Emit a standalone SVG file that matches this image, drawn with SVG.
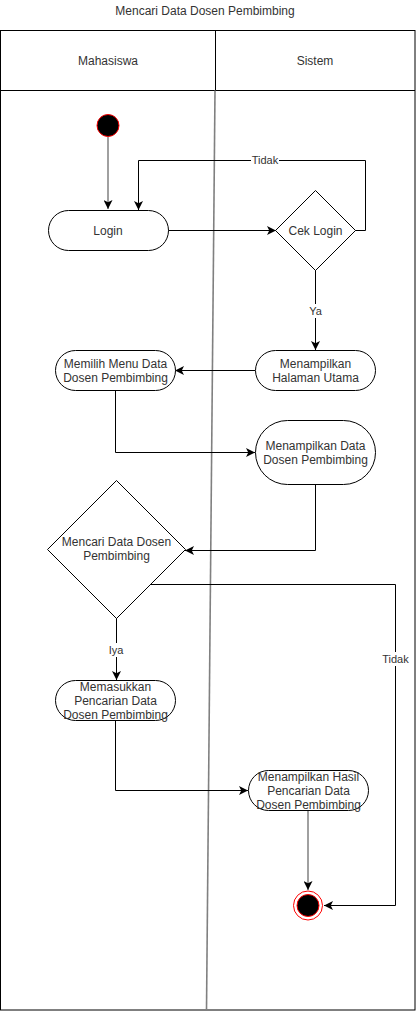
<svg xmlns="http://www.w3.org/2000/svg" width="416" height="1012" viewBox="0 0 416 1012">
<style>
text{font-family:"Liberation Sans",Arial,sans-serif;font-size:12px;fill:#333;text-anchor:middle}
.lbl{font-size:11px}
.node{fill:#fff;stroke:#000;stroke-width:1}
.edge{fill:none;stroke:#000;stroke-width:1}
.gray{fill:none;stroke:#808080;stroke-width:1.5}
.frame{fill:#fff;stroke:#000;stroke-width:1}
</style>
<defs>
<marker id="arr" viewBox="0 0 10 10" refX="10" refY="5" markerWidth="9" markerHeight="9" markerUnits="userSpaceOnUse" orient="auto">
<path d="M0,0 L10,5 L0,10 L2.5,5 Z" fill="#000"/>
</marker>
</defs>
<rect width="416" height="1012" fill="#fff"/>
<text x="205" y="15">Mencari Data Dosen Pembimbing</text>
<g id="pool">
<rect class="frame" x="0.5" y="30.5" width="414.5" height="979.5"/>
<line class="edge" x1="0.5" y1="90.5" x2="415" y2="90.5"/>
<line class="edge" x1="215.5" y1="30.5" x2="215.5" y2="90.5"/>
<line x1="215" y1="90.5" x2="206.5" y2="1010" stroke="#808080" stroke-width="1.6"/>
<text x="108" y="65">Mahasiswa</text>
<text x="315" y="65">Sistem</text>
</g>
<g id="connectors">
<line class="gray" x1="108" y1="137" x2="108" y2="209" marker-end="url(#arr)"/>
<line class="edge" x1="168" y1="230.5" x2="276" y2="230.5" marker-end="url(#arr)"/>
<polyline class="edge" points="355,230.5 365.5,230.5 365.5,160.5 138.5,160.5 138.5,210" marker-end="url(#arr)"/>
<rect x="251" y="153" width="28" height="14" fill="#fff"/>
<text class="lbl" x="265" y="164">Tidak</text>
<line class="edge" x1="315.5" y1="270" x2="315.5" y2="350" marker-end="url(#arr)"/>
<rect x="307" y="304" width="17" height="14" fill="#fff"/>
<text class="lbl" x="315.5" y="315">Ya</text>
<line class="edge" x1="255" y1="370.5" x2="175" y2="370.5" marker-end="url(#arr)"/>
<polyline class="edge" points="115.5,390 115.5,452.5 255,452.5" marker-end="url(#arr)"/>
<polyline class="edge" points="315.5,485 315.5,550.5 185,550.5" marker-end="url(#arr)"/>
<line class="edge" x1="116.5" y1="618" x2="116.5" y2="680" marker-end="url(#arr)"/>
<rect x="107" y="643" width="18" height="14" fill="#fff"/>
<text class="lbl" x="116" y="654">Iya</text>
<polyline class="edge" points="150,584.5 395.5,584.5 395.5,905.5 324,905.5" marker-end="url(#arr)"/>
<rect x="381" y="652" width="29" height="14" fill="#fff"/>
<text class="lbl" x="395.5" y="663">Tidak</text>
<polyline class="edge" points="115.5,720 115.5,790.5 248,790.5" marker-end="url(#arr)"/>
<line class="gray" x1="308" y1="810" x2="308" y2="890" marker-end="url(#arr)"/>
</g>
<g id="start">
<circle cx="108" cy="125.5" r="11" fill="#000" stroke="#ff0000" stroke-width="1"/>
</g>
<g id="login">
<rect class="node" x="48.5" y="210.5" width="120" height="40" rx="20"/>
<text x="108" y="234.5">Login</text>
</g>
<g id="cek-login">
<polygon class="node" points="315.5,190.5 355.5,230.5 315.5,270.5 275.5,230.5"/>
<text x="315.5" y="234.5">Cek Login</text>
</g>
<g id="halaman-utama">
<rect class="node" x="255.5" y="350.5" width="120" height="40" rx="20"/>
<text x="315.5" y="368">Menampilkan</text>
<text x="315.5" y="382">Halaman Utama</text>
</g>
<g id="memilih-menu">
<rect class="node" x="55.5" y="350.5" width="120" height="40" rx="20"/>
<text x="115.5" y="368">Memilih Menu Data</text>
<text x="115.5" y="382">Dosen Pembimbing</text>
</g>
<g id="tampil-data">
<rect class="node" x="255.5" y="420.5" width="120" height="64" rx="32"/>
<text x="315.5" y="450">Menampilkan Data</text>
<text x="315.5" y="464">Dosen Pembimbing</text>
</g>
<g id="cari-data">
<polygon class="node" points="116.5,480.5 185.5,549.5 116.5,618.5 47.5,549.5"/>
<text x="116.5" y="546">Mencari Data Dosen</text>
<text x="116.5" y="560">Pembimbing</text>
</g>
<g id="memasukkan">
<rect class="node" x="55.5" y="680.5" width="120" height="40" rx="20"/>
<text x="115.5" y="691">Memasukkan</text>
<text x="115.5" y="705">Pencarian Data</text>
<text x="115.5" y="719">Dosen Pembimbing</text>
</g>
<g id="hasil">
<rect class="node" x="248.5" y="770.5" width="120" height="40" rx="20"/>
<text x="308.5" y="781">Menampilkan Hasil</text>
<text x="308.5" y="795">Pencarian Data</text>
<text x="308.5" y="809">Dosen Pembimbing</text>
</g>
<g id="end">
<circle cx="308" cy="905.5" r="14.5" fill="#fff" stroke="#ff0000" stroke-width="1"/>
<circle cx="308" cy="905.5" r="11" fill="#000" stroke="#ff0000" stroke-width="1"/>
</g>
</svg>
